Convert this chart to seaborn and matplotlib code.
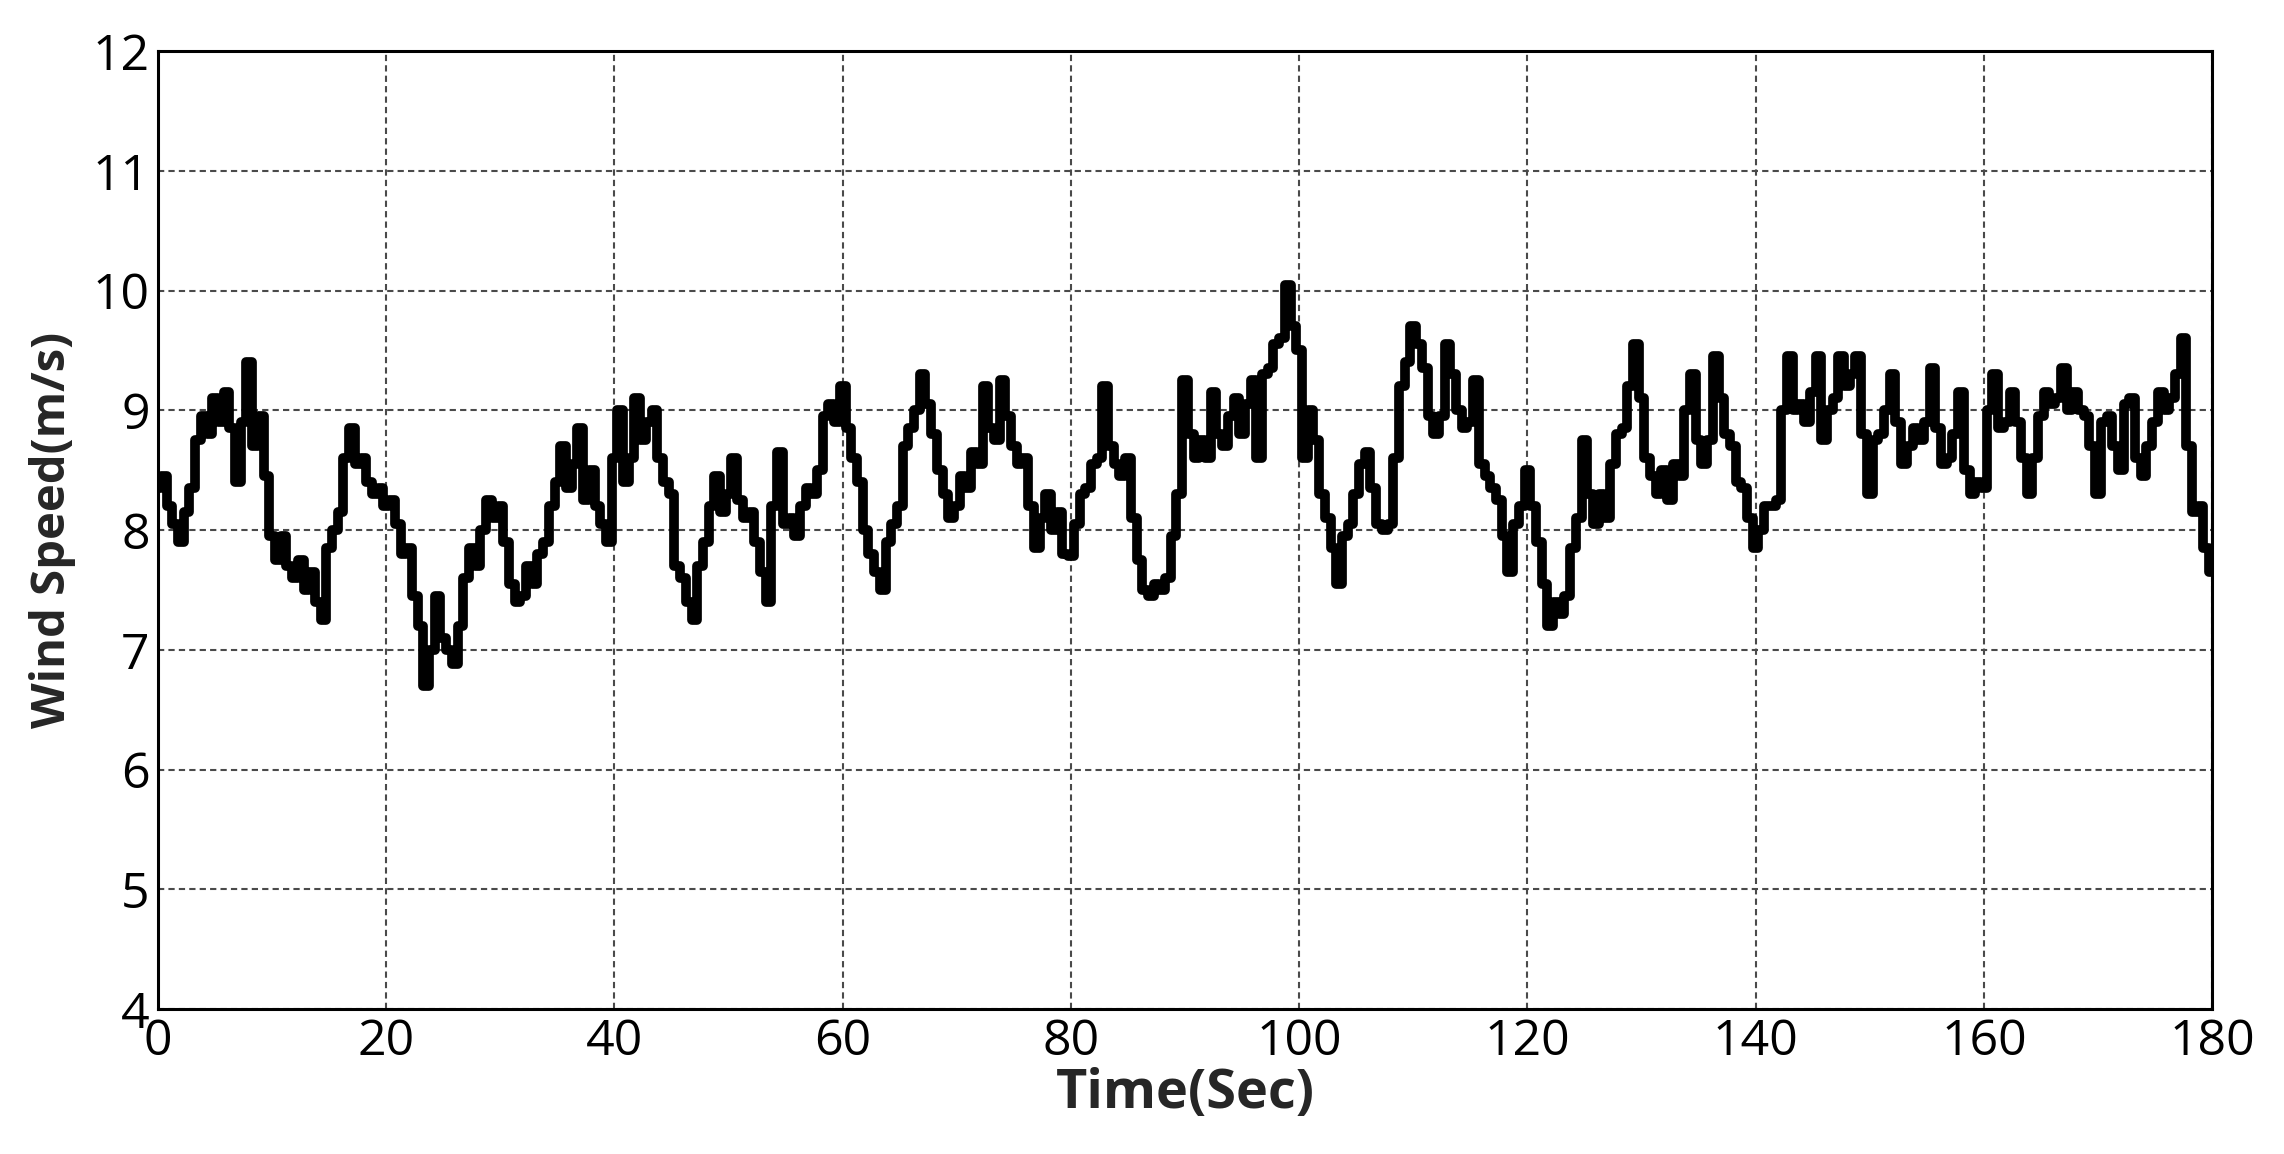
import numpy as np
import pandas as pd
import matplotlib
matplotlib.use("Agg")
import matplotlib.pyplot as plt
import seaborn as sns

# Sample times (s), every 0.5 s
time_s = np.arange(0, 180.5, 0.5)

# Wind speed (m/s)
speed_0_10 = [8.35, 8.45, 8.2, 8.05, 7.9, 8.15, 8.35, 8.75, 8.95, 8.8, 9.1,
              8.9, 9.15, 8.85, 8.4, 8.9, 9.4, 8.7, 8.95, 8.45, 7.95]
speed_10_20 = [7.75, 7.95, 7.7, 7.6, 7.75, 7.5, 7.65, 7.4, 7.25, 7.85,
               8.0, 8.15, 8.6, 8.85, 8.55, 8.6, 8.4, 8.3, 8.35, 8.2]
speed_20_30 = [8.25, 8.05, 7.8, 7.85, 7.45, 7.2, 6.7, 7.0, 7.45, 7.1,
               7.0, 6.88, 7.2, 7.6, 7.85, 7.7, 8.0, 8.25, 8.1, 8.2]
speed_30_40 = [7.9, 7.55, 7.4, 7.45, 7.7, 7.55, 7.8, 7.9, 8.2, 8.4,
               8.7, 8.35, 8.55, 8.85, 8.25, 8.5, 8.2, 8.05, 7.9, 8.6]
speed_40_50 = [9.0, 8.4, 8.6, 9.1, 8.75, 8.9, 9.0, 8.6, 8.4, 8.3,
               7.7, 7.6, 7.4, 7.25, 7.7, 7.9, 8.2, 8.45, 8.15, 8.3]
speed_50_60 = [8.6, 8.25, 8.1, 8.15, 7.9, 7.65, 7.4, 8.2, 8.65, 8.05,
               8.1, 7.95, 8.2, 8.35, 8.3, 8.5, 8.95, 9.05, 8.9, 9.2]
speed_60_70 = [8.85, 8.6, 8.4, 8.0, 7.8, 7.65, 7.5, 7.9, 8.05, 8.2,
               8.7, 8.85, 9.0, 9.3, 9.05, 8.8, 8.5, 8.3, 8.1, 8.2]
speed_70_80 = [8.45, 8.35, 8.65, 8.55, 9.2, 8.85, 8.75, 9.25, 8.95, 8.7,
               8.55, 8.6, 8.2, 7.85, 8.1, 8.3, 8.0, 8.15, 7.8, 7.78]
speed_80_90 = [8.05, 8.3, 8.35, 8.55, 8.6, 9.2, 8.7, 8.55, 8.45, 8.6,
               8.1, 7.75, 7.5, 7.45, 7.55, 7.5, 7.6, 7.95, 8.3, 9.25]
speed_90_100 = [8.8, 8.6, 8.75, 8.6, 9.15, 8.8, 8.7, 8.95, 9.1, 8.8,
                9.05, 9.25, 8.6, 9.3, 9.35, 9.55, 9.6, 10.05, 9.7, 9.5]
speed_100_110 = [8.6, 9.0, 8.75, 8.3, 8.1, 7.85, 7.55, 7.95, 8.05, 8.3,
                 8.55, 8.65, 8.35, 8.05, 8.0, 8.05, 8.6, 9.2, 9.4, 9.7]
speed_110_120 = [9.55, 9.35, 8.95, 8.8, 8.95, 9.55, 9.3, 9.0, 8.85, 8.9,
                 9.25, 8.55, 8.45, 8.35, 8.25, 7.95, 7.65, 8.05, 8.2, 8.5]
speed_120_130 = [8.2, 7.9, 7.55, 7.2, 7.4, 7.3, 7.45, 7.85, 8.1, 8.75,
                 8.3, 8.05, 8.3, 8.1, 8.55, 8.8, 8.85, 9.2, 9.55, 9.1]
speed_130_140 = [8.6, 8.45, 8.3, 8.5, 8.25, 8.55, 8.45, 9.0, 9.3, 8.75,
                 8.55, 8.75, 9.45, 9.1, 8.8, 8.7, 8.4, 8.35, 8.1, 7.85]
speed_140_150 = [8.0, 8.2, 8.2, 8.25, 9.0, 9.45, 9.0, 9.05, 8.9, 9.15,
                 9.45, 8.75, 9.0, 9.1, 9.45, 9.2, 9.3, 9.45, 8.8, 8.3]
speed_150_160 = [8.75, 8.8, 9.0, 9.3, 8.9, 8.55, 8.7, 8.85, 8.75, 8.9,
                 9.35, 8.85, 8.55, 8.6, 8.8, 9.15, 8.5, 8.3, 8.4, 8.35]
speed_160_170 = [9.0, 9.3, 8.85, 8.9, 9.15, 8.9, 8.6, 8.3, 8.6, 8.95,
                 9.15, 9.05, 9.1, 9.35, 9.0, 9.15, 9.0, 8.95, 8.7, 8.3]
speed_170_180 = [8.9, 8.95, 8.7, 8.5, 9.05, 9.1, 8.6, 8.45, 8.7, 8.9,
                 9.15, 9.0, 9.1, 9.3, 9.6, 8.7, 8.15, 8.2, 7.85, 7.65]

wind_speed = (speed_0_10 + speed_10_20 + speed_20_30 + speed_30_40 + speed_40_50
              + speed_50_60 + speed_60_70 + speed_70_80 + speed_80_90 + speed_90_100
              + speed_100_110 + speed_110_120 + speed_120_130 + speed_130_140
              + speed_140_150 + speed_150_160 + speed_160_170 + speed_170_180)

x_ticks = [0, 20, 40, 60, 80, 100, 120, 140, 160, 180]
y_ticks = [4, 5, 6, 7, 8, 9, 10, 11, 12]

df = pd.DataFrame({"Time": time_s, "Speed": wind_speed})

sns.set_style("white")
plt.rcParams["font.family"] = ["Open Sans", "DejaVu Sans"]

fig = plt.figure(figsize=(22.84, 11.54), dpi=100)
ax = fig.add_axes([0.0692, 0.1256, 0.8993, 0.8302])

sns.lineplot(data=df, x="Time", y="Speed", ax=ax, color="black",
             linewidth=7.0, drawstyle="steps-mid", zorder=3)

ax.set_xlim(0, 180)
ax.set_ylim(4, 12)
ax.set_xticks(x_ticks)
ax.set_yticks(y_ticks)
ax.tick_params(axis="both", length=0, labelsize=36, colors="black", pad=6)
ax.grid(True, linestyle=(0, (3, 2)), color="#4a4a4a", linewidth=1.5, zorder=1)
for s in ax.spines.values():
    s.set_color("black")
    s.set_linewidth(2.2)
    s.set_zorder(4)

ax.set_xlabel("Time(Sec)", fontsize=39, fontweight="bold", labelpad=0)
ax.set_ylabel("Wind Speed(m/s)", fontsize=34, fontweight="bold", labelpad=12)

fig.savefig("out.png", dpi=100, facecolor="white")
